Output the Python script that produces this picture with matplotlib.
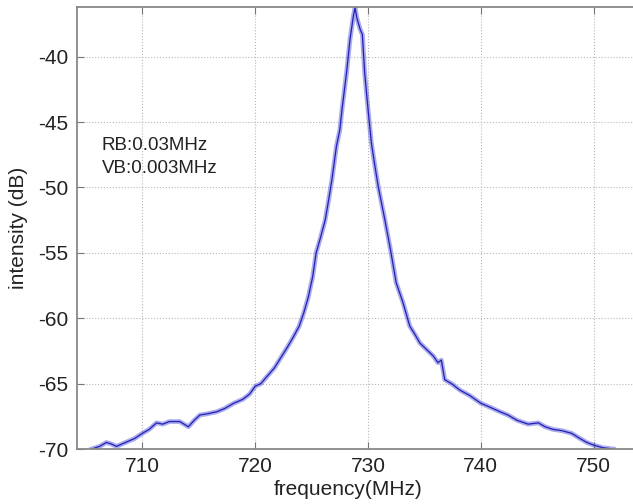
import matplotlib
matplotlib.use('Agg')
import matplotlib.pyplot as plt

plt.rcParams['font.family'] = ['Liberation Sans', 'DejaVu Sans']
plt.rcParams['axes.unicode_minus'] = False

# spectrum trace (MHz, dB)
freq = [705.5, 706.2, 706.8, 707.2, 707.7, 708.5, 709.3, 710.0, 710.6, 711.25,
        711.8, 712.4, 713.3, 714.07, 714.6, 715.1, 715.8, 716.6, 717.3, 718.1,
        718.9, 719.5, 720.0, 720.5, 721.0, 721.7, 722.5, 723.0, 723.4, 723.9,
        724.3, 724.7, 725.1, 725.4, 725.8, 726.2, 726.5, 726.8, 727.2, 727.5,
        727.7, 728.1, 728.4, 728.7, 728.85, 729.0, 729.3, 729.5, 729.7, 730.0,
        730.3, 730.6, 730.9, 731.2, 731.5, 732.0, 732.5, 733.1, 733.7, 734.2,
        734.6, 735.2, 735.8, 736.2, 736.5, 736.8, 737.4, 738.15, 739.0, 740.0,
        740.8, 741.7, 742.4, 743.2, 744.2, 745.1, 745.7, 746.4, 747.2, 748.05,
        748.8, 749.4, 750.0, 750.8, 751.75]
intensity = [-70.0, -69.8, -69.5, -69.6, -69.8, -69.5, -69.2, -68.8, -68.5, -68.0,
             -68.1, -67.9, -67.9, -68.3, -67.8, -67.4, -67.3, -67.15, -66.9, -66.5,
             -66.2, -65.8, -65.2, -65.0, -64.5, -63.8, -62.7, -62.0, -61.4, -60.6,
             -59.6, -58.4, -56.8, -55.0, -53.8, -52.5, -51.0, -49.4, -46.85, -45.6,
             -44.0, -41.2, -38.7, -36.9, -36.25, -37.0, -37.9, -38.3, -41.2, -44.0,
             -46.6, -48.3, -49.9, -51.2, -52.5, -54.8, -57.3, -58.8, -60.6, -61.3,
             -61.9, -62.4, -62.9, -63.4, -63.2, -64.7, -65.0, -65.5, -65.9, -66.5,
             -66.8, -67.15, -67.4, -67.8, -68.1, -68.0, -68.3, -68.5, -68.6, -68.8,
             -69.2, -69.5, -69.7, -69.9, -70.0]

xticks = [710, 720, 730, 740, 750]
yticks = [-70, -65, -60, -55, -50, -45, -40]

fig = plt.figure(figsize=(6.33, 5.04), dpi=100)
ax = fig.add_axes([77 / 633, 55 / 504, 573 / 633, 442 / 504])

# noisy trace drawn as a soft band with a darker core
ax.plot(freq, intensity, color='#5a5ad8', lw=3.4, alpha=0.5)
ax.plot(freq, intensity, color='#2020b8', lw=0.9)

ax.set_xlim(704.2, 755)
ax.set_ylim(-70, -36.2)
ax.set_xticks(xticks)
ax.set_yticks(yticks)
ax.grid(True, linestyle=':', color='#b8b8b8', linewidth=0.8)
ax.tick_params(direction='in', top=True, right=False, length=5, color='#777777',
               labelsize=15, labelcolor='#222222', pad=6)
for side in ['left', 'bottom', 'top']:
    ax.spines[side].set_color('#888888')
    ax.spines[side].set_linewidth(1.3)
ax.spines['right'].set_visible(False)

ax.set_xlabel('frequency(MHz)', fontsize=15, color='#222222')
ax.xaxis.set_label_coords(0.473, -0.07)
ax.set_ylabel('intensity (dB)', fontsize=15, color='#222222')
ax.yaxis.set_label_coords(-0.085, 0.5)

ax.text(706.4, -47.14, 'RB:0.03MHz', fontsize=13.5, color='#222222')
ax.text(706.4, -48.9, 'VB:0.003MHz', fontsize=13.5, color='#222222')

fig.savefig('out.png', dpi=100)
